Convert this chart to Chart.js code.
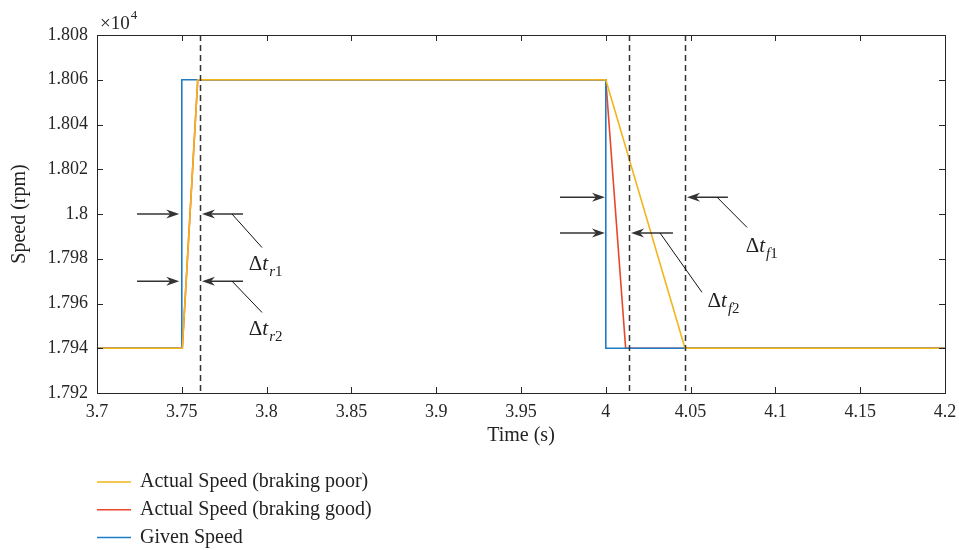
<!DOCTYPE html>
<html>
<head>
<meta charset="utf-8">
<script src="https://cdn.jsdelivr.net/npm/chart.js@4.4.1/dist/chart.umd.min.js"></script>
<style>
  html, body { margin: 0; padding: 0; background: #fff; }
  #wrap { width: 959px; height: 550px; }
</style>
</head>
<body>
<div id="wrap"><canvas id="speedChart" width="959" height="550"></canvas></div>
<script>
"use strict";

// time axis (s) and speed axis (rpm)
var xTicks = [ 3.7, 3.75, 3.8, 3.85, 3.9, 3.95, 4, 4.05, 4.1, 4.15, 4.2 ];
var yTicks = [ 17920, 17940, 17960, 17980, 18000, 18020, 18040, 18060, 18080 ];

// series: [time, speed]
var givenSpeed = [ [3.7, 17940], [3.75, 17940], [3.75, 18060], [4.0, 18060], [4.0, 17940], [4.2, 17940] ];
var brakingGood = [ [3.7, 17940], [3.7503, 17940], [3.7594, 18060], [4.0, 18060], [4.0117, 17940], [4.2, 17940] ];
var brakingPoor = [ [3.7, 17940], [3.7503, 17940], [3.7594, 18060], [4.0, 18060], [4.0467, 17940], [4.2, 17940] ];

// dashed markers (s)
var markerTimes = [ 3.7607, 4.0139, 4.0467 ];

// arrows: [tailTime, headTime, speed]
var arrows = [
    [3.7236, 3.7485, 18000], [3.7236, 3.7485, 17970],
    [3.7861, 3.7619, 18000], [3.7861, 3.7619, 17970],
    [3.973, 3.9995, 18007.5], [3.973, 3.9995, 17991.5],
    [4.0720, 4.0479, 18007.5], [4.0396, 4.0149, 17991.5]
];
// leader lines: [t0, v0, t1, v1]
var leaders = [
    [3.7796, 18000, 3.7973, 17985],
    [3.7796, 17970, 3.7973, 17956],
    [4.0656, 18007.5, 4.0833, 17994],
    [4.0320, 17991.5, 4.0567, 17965]
];
// labels: [time, speed, subscript]
var deltaLabels = [
    [3.7895, 17978, "r", "1"],
    [3.7895, 17949, "r", "2"],
    [4.0825, 17986, "f", "1"],
    [4.0600, 17961.5, "f", "2"]
];

var serif = "'Liberation Serif', 'DejaVu Serif', serif";
var ink = "#262626";

function toXY( arr ) {
    return arr.map( function ( p ) { return { x: p[0], y: p[1] }; } );
}

function fmt( v ) {
    return String( parseFloat( v.toFixed( 4 ) ) );
}

// box, inward ticks, dashed markers, arrows, labels, exponent and legend
var decorations = {
    id: "decorations",
    afterDatasetsDraw: function ( chart ) {
        var c = chart.ctx, a = chart.chartArea, sx = chart.scales.x, sy = chart.scales.y;
        c.save();

        // dashed vertical lines
        c.strokeStyle = "#333";
        c.lineWidth = 1.5;
        c.setLineDash( [ 6, 4 ] );
        markerTimes.forEach( function ( t ) {
            var px = Math.round( sx.getPixelForValue( t ) ) + 0.5;
            c.beginPath();
            c.moveTo( px, a.top );
            c.lineTo( px, a.bottom );
            c.stroke();
        } );
        c.setLineDash( [] );

        // box
        c.strokeStyle = ink;
        c.lineWidth = 1;
        c.strokeRect( Math.round( a.left ) + 0.5, Math.round( a.top ) + 0.5,
            Math.round( a.right - a.left ), Math.round( a.bottom - a.top ) );

        // inward ticks on all four sides
        var tl = 6;
        c.beginPath();
        xTicks.forEach( function ( t ) {
            var px = Math.round( sx.getPixelForValue( t ) ) + 0.5;
            c.moveTo( px, a.bottom ); c.lineTo( px, a.bottom - tl );
            c.moveTo( px, a.top ); c.lineTo( px, a.top + tl );
        } );
        yTicks.forEach( function ( v ) {
            var py = Math.round( sy.getPixelForValue( v ) ) + 0.5;
            c.moveTo( a.left, py ); c.lineTo( a.left + tl, py );
            c.moveTo( a.right, py ); c.lineTo( a.right - tl, py );
        } );
        c.stroke();

        // arrows
        c.strokeStyle = "#333";
        c.fillStyle = "#333";
        c.lineWidth = 1.5;
        arrows.forEach( function ( ar ) {
            var x0 = sx.getPixelForValue( ar[0] ), x1 = sx.getPixelForValue( ar[1] );
            var py = sy.getPixelForValue( ar[2] );
            var dir = x1 > x0 ? 1 : -1;
            c.beginPath();
            c.moveTo( x0, py );
            c.lineTo( x1 - dir * 8, py );
            c.stroke();
            c.beginPath();
            c.moveTo( x1, py );
            c.lineTo( x1 - dir * 13, py - 4.5 );
            c.lineTo( x1 - dir * 9, py );
            c.lineTo( x1 - dir * 13, py + 4.5 );
            c.closePath();
            c.fill();
        } );

        // leader lines
        c.strokeStyle = "#111";
        c.lineWidth = 1;
        leaders.forEach( function ( l ) {
            c.beginPath();
            c.moveTo( sx.getPixelForValue( l[0] ), sy.getPixelForValue( l[1] ) );
            c.lineTo( sx.getPixelForValue( l[2] ), sy.getPixelForValue( l[3] ) );
            c.stroke();
        } );

        // delta t labels
        c.fillStyle = "#222";
        c.textBaseline = "alphabetic";
        c.textAlign = "left";
        deltaLabels.forEach( function ( lb ) {
            var px = sx.getPixelForValue( lb[0] ), py = sy.getPixelForValue( lb[1] ) + 7;
            c.font = "21px " + serif;
            c.fillText( "\u0394", px, py );
            px += c.measureText( "\u0394" ).width;
            c.font = "italic 21px " + serif;
            c.fillText( "t", px, py );
            px += c.measureText( "t" ).width + 1;
            c.font = "italic 15px " + serif;
            c.fillText( lb[2], px, py + 6 );
            px += c.measureText( lb[2] ).width;
            c.font = "15px " + serif;
            c.fillText( lb[3], px, py + 6 );
        } );

        // x10^4 exponent
        c.fillStyle = ink;
        c.font = "19px " + serif;
        c.fillText( "\u00d710", a.left + 3, a.top - 6 );
        var w = c.measureText( "\u00d710" ).width;
        c.font = "13px " + serif;
        c.fillText( "4", a.left + 3 + w + 1, a.top - 16 );

        // legend, stacked at the bottom left
        c.font = "20px " + serif;
        c.textBaseline = "middle";
        chart.data.datasets.forEach( function ( ds, i ) {
            var ly = 482 + i * 27.8;
            c.strokeStyle = ds.borderColor;
            c.lineWidth = 1.5;
            c.beginPath();
            c.moveTo( a.left, ly );
            c.lineTo( a.left + 34, ly );
            c.stroke();
            c.fillStyle = "#222";
            c.fillText( ds.label, a.left + 43, ly );
        } );

        c.restore();
    }
};

var ctx = document.getElementById( "speedChart" );
var myChart = new Chart( ctx, {
    type: "line",
    data: {
        datasets: [
            {
                label: "Actual Speed (braking poor)",
                data: toXY( brakingPoor ),
                borderColor: "#F2B51C",
                borderWidth: 1.6,
                order: 0
            },
            {
                label: "Actual Speed (braking good)",
                data: toXY( brakingGood ),
                borderColor: "#E8472B",
                borderWidth: 1.6,
                order: 2
            },
            {
                label: "Given Speed",
                data: toXY( givenSpeed ),
                borderColor: "#1F7DC6",
                borderWidth: 1.6,
                order: 1
            }
        ]
    },
    options: {
        responsive: false,
        animation: false,
        events: [],
        elements: {
            point: { radius: 0 },
            line: { tension: 0, fill: false }
        },
        layout: {
            padding: { left: 0, top: 35, right: 14, bottom: 97 }
        },
        plugins: {
            legend: { display: false },
            tooltip: { enabled: false }
        },
        scales: {
            x: {
                type: "linear",
                min: 3.7,
                max: 4.2,
                afterBuildTicks: function ( s ) {
                    s.ticks = xTicks.map( function ( v ) { return { value: v }; } );
                },
                afterFit: function ( s ) {
                    s.height = 60;
                    s.paddingLeft = 0;
                    s.paddingRight = 0;
                },
                grid: { display: false, drawTicks: false },
                border: { display: false },
                ticks: {
                    padding: 8,
                    maxRotation: 0,
                    autoSkip: false,
                    color: ink,
                    font: { family: serif, size: 18 },
                    callback: function ( v ) { return fmt( v ); }
                },
                title: {
                    display: true,
                    text: "Time (s)",
                    color: "#222",
                    padding: { top: 0, bottom: 5 },
                    font: { family: serif, size: 20 }
                }
            },
            y: {
                type: "linear",
                min: 17920,
                max: 18080,
                afterBuildTicks: function ( s ) {
                    s.ticks = yTicks.map( function ( v ) { return { value: v }; } );
                },
                afterFit: function ( s ) {
                    s.width = 97;
                    s.paddingTop = 0;
                    s.paddingBottom = 0;
                },
                grid: { display: false, drawTicks: false },
                border: { display: false },
                ticks: {
                    padding: 9,
                    autoSkip: false,
                    color: ink,
                    font: { family: serif, size: 18 },
                    callback: function ( v ) { return fmt( v / 1e4 ); }
                },
                title: {
                    display: true,
                    text: "Speed (rpm)",
                    color: "#222",
                    padding: { top: 8, bottom: 0 },
                    font: { family: serif, size: 20 }
                }
            }
        }
    },
    plugins: [ decorations ]
} );
</script>
</body>
</html>
